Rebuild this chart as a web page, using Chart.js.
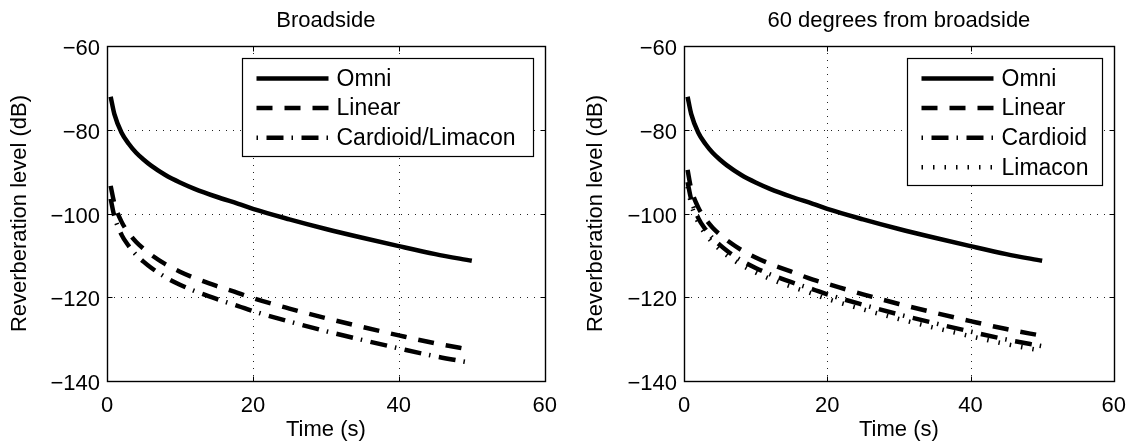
<!DOCTYPE html>
<html>
<head>
<meta charset="utf-8">
<title>Reverberation level vs time</title>
<script src="https://cdn.jsdelivr.net/npm/chart.js@4.4.0/dist/chart.umd.min.js"></script>
<style>
  html, body { margin: 0; padding: 0; background: #fff; }
  #wrap { display: flex; width: 1138px; height: 446px; }
  .panel { width: 569px; height: 446px; }
</style>
</head>
<body>
<div id="wrap">
  <div class="panel"><canvas id="leftChart" width="569" height="446"></canvas></div>
  <div class="panel"><canvas id="rightChart" width="569" height="446"></canvas></div>
</div>
<script>
// axis ticks
const xTicks = [0, 20, 40, 60];
const yTicks = [-140, -120, -100, -80, -60];

// time samples (s)
const timeSec = [0.5, 1, 2, 3, 4, 5, 6, 8, 10, 12, 15, 18, 20, 25, 30, 35, 40, 45, 50];

// reverberation level (dB)
const omniLevel = [-72.1, -76.2, -80.7, -83.4, -85.5, -87.1, -88.5, -90.8, -92.6, -94.1, -96.0, -97.7, -98.9, -101.4, -103.7, -105.8, -107.8, -109.7, -111.3];

// broadside
const broadLinear = [-93.4, -97.5, -102.0, -104.7, -106.8, -108.4, -109.8, -112.1, -113.9, -115.4, -117.3, -119.0, -120.2, -122.7, -125.0, -127.1, -129.1, -131.0, -132.6];
const broadCardLima = [-96.5, -100.6, -105.1, -107.8, -109.9, -111.5, -112.9, -115.2, -117.0, -118.5, -120.4, -122.1, -123.3, -125.8, -128.1, -130.2, -132.2, -134.1, -135.7];

// 60 degrees from broadside
const off60Linear = [-89.6, -94.1, -98.6, -101.3, -103.4, -105.0, -106.4, -108.7, -110.5, -112.0, -113.9, -115.8, -116.8, -119.3, -121.6, -123.7, -125.7, -127.6, -129.2];
const off60Cardioid = [-92.5, -96.6, -101.1, -103.8, -105.9, -107.5, -108.9, -111.2, -113.0, -114.5, -116.4, -118.1, -119.3, -121.8, -124.1, -126.2, -128.2, -130.1, -131.7];
const off60Limacon = [-93.6, -97.7, -102.2, -104.9, -107.0, -108.6, -110.0, -112.3, -114.1, -115.6, -117.5, -119.2, -120.4, -122.9, -125.2, -127.3, -129.3, -131.2, -132.8];

const FONT = "'Liberation Sans', Arial, Helvetica, sans-serif";
Chart.defaults.font.family = FONT;
Chart.defaults.color = '#000';

const DASH = [16, 12];
const DASH_DOT = [17, 8, 1.5, 8.5];
const DOTS = [1.5, 10];

function toPoints(values) {
    return timeSec.map((t, i) => ({ x: t, y: values[i] }));
}

function makeSet(label, values, dash, legendOffset) {
    return {
        label,
        data: toPoints(values),
        borderColor: '#000',
        borderWidth: 4.5,
        borderDash: dash,
        legendDashOffset: legendOffset || 0,
        borderCapStyle: 'butt',
        pointRadius: 0,
        fill: false,
        cubicInterpolationMode: 'monotone'
    };
}

// dotted grid, axes box and inward ticks (MATLAB look)
const framePlugin = {
    id: 'frame',
    beforeDatasetsDraw(chart) {
        const { ctx, chartArea: a, scales } = chart;
        const xs = xTicks.map(v => Math.round(scales.x.getPixelForValue(v)) + 0.5);
        const ys = yTicks.map(v => Math.round(scales.y.getPixelForValue(v)) + 0.5);
        ctx.save();
        ctx.strokeStyle = '#222';
        ctx.lineWidth = 1;
        ctx.setLineDash([1, 6]);
        xs.slice(1, -1).forEach(px => {
            ctx.beginPath(); ctx.moveTo(px, a.top); ctx.lineTo(px, a.bottom); ctx.stroke();
        });
        ys.slice(1, -1).forEach(py => {
            ctx.beginPath(); ctx.moveTo(a.left, py); ctx.lineTo(a.right, py); ctx.stroke();
        });
        ctx.setLineDash([]);
        ctx.strokeStyle = '#000';
        const L = xs[0], R = xs[xs.length - 1], T = ys[ys.length - 1], B = ys[0];
        ctx.lineWidth = 1.4;
        ctx.strokeRect(L, T, R - L, B - T);
        ctx.lineWidth = 1;
        ctx.beginPath();
        xs.forEach(px => { ctx.moveTo(px, B); ctx.lineTo(px, B - 5); ctx.moveTo(px, T); ctx.lineTo(px, T + 5); });
        ys.forEach(py => { ctx.moveTo(L, py); ctx.lineTo(L + 5, py); ctx.moveTo(R, py); ctx.lineTo(R - 5, py); });
        ctx.stroke();
        ctx.restore();
    }
};

// boxed legend in the upper right corner of the plot
const boxLegend = {
    id: 'boxLegend',
    afterDatasetsDraw(chart, args, opts) {
        const { ctx, chartArea } = chart;
        const sets = chart.data.datasets;
        const left = Math.round(chartArea.right - opts.inset - opts.width) + 0.5;
        const top = Math.round(chartArea.top + opts.inset) + 0.5;
        const height = Math.round(opts.firstRow + (sets.length - 1) * opts.rowGap + opts.lastPad);
        ctx.save();
        ctx.fillStyle = '#fff';
        ctx.fillRect(left, top, opts.width, height);
        ctx.strokeStyle = '#000';
        ctx.lineWidth = 1.2;
        ctx.strokeRect(left, top, opts.width, height);
        ctx.font = opts.fontSize + 'px ' + FONT;
        ctx.textBaseline = 'middle';
        ctx.textAlign = 'left';
        sets.forEach((ds, i) => {
            const y = top + opts.firstRow + i * opts.rowGap;
            ctx.beginPath();
            ctx.setLineDash(ds.borderDash || []);
            ctx.lineDashOffset = ds.legendDashOffset;
            ctx.lineWidth = ds.borderWidth;
            ctx.lineCap = 'butt';
            ctx.strokeStyle = '#000';
            ctx.moveTo(left + 14, y);
            ctx.lineTo(left + 86, y);
            ctx.stroke();
            ctx.setLineDash([]);
            ctx.fillStyle = '#000';
            ctx.fillText(ds.label, left + 94, y + 1);
        });
        ctx.restore();
    }
};

function buildChart(canvasId, title, datasets, cfg) {
    const ctx = document.getElementById(canvasId).getContext('2d');
    return new Chart(ctx, {
        type: 'line',
        data: { datasets },
        plugins: [framePlugin, boxLegend],
        options: {
            responsive: false,
            animation: false,
            events: [],
            layout: { padding: { left: 0, right: cfg.padRight, top: 0, bottom: 0 } },
            plugins: {
                legend: { display: false },
                tooltip: { enabled: false },
                title: {
                    display: true,
                    text: title,
                    fullSize: false,
                    color: '#000',
                    font: { size: 22, weight: 'normal' },
                    padding: { top: 7.5, bottom: 12.1 }
                },
                boxLegend: cfg.legend
            },
            scales: {
                x: {
                    type: 'linear',
                    min: 0,
                    max: 60,
                    afterBuildTicks: s => { s.ticks = xTicks.map(v => ({ value: v })); },
                    afterFit: s => { s.height = 65; },
                    ticks: { font: { size: 22 }, color: '#000', padding: 12, maxRotation: 0 },
                    grid: { display: false, drawTicks: false },
                    border: { display: false },
                    title: {
                        display: true,
                        text: 'Time (s)',
                        color: '#000',
                        font: { size: 22 },
                        padding: { top: 0, bottom: 3 }
                    }
                },
                y: {
                    type: 'linear',
                    min: -140,
                    max: -60,
                    afterBuildTicks: s => { s.ticks = yTicks.map(v => ({ value: v })); },
                    afterFit: s => { s.width = cfg.yWidth; },
                    ticks: {
                        font: { size: 22 },
                        color: '#000',
                        padding: 7,
                        labelOffset: 3,
                        callback: v => String(v).replace('-', '\u2212')
                    },
                    grid: { display: false, drawTicks: false },
                    border: { display: false },
                    title: {
                        display: true,
                        text: 'Reverberation level (dB)',
                        color: '#000',
                        font: { size: 22 },
                        padding: { top: cfg.yTitlePad, bottom: 0 }
                    }
                }
            }
        }
    });
}

buildChart('leftChart', 'Broadside', [
    makeSet('Omni', omniLevel, []),
    makeSet('Linear', broadLinear, DASH),
    makeSet('Cardioid/Limacon', broadCardLima, DASH_DOT, 25)
], {
    padRight: 24,
    yWidth: 107,
    yTitlePad: 6.8,
    legend: { inset: 12, width: 291, firstRow: 20, rowGap: 29.6, lastPad: 18.5, fontSize: 23 }
});

buildChart('rightChart', '60 degrees from broadside', [
    makeSet('Omni', omniLevel, []),
    makeSet('Linear', off60Linear, DASH),
    makeSet('Cardioid', off60Cardioid, DASH_DOT, 25),
    makeSet('Limacon', off60Limacon, DOTS)
], {
    padRight: 18,
    yWidth: 115,
    yTitlePad: 13.5,
    legend: { inset: 12, width: 195, firstRow: 20, rowGap: 29.6, lastPad: 18.5, fontSize: 23 }
});
</script>
</body>
</html>
